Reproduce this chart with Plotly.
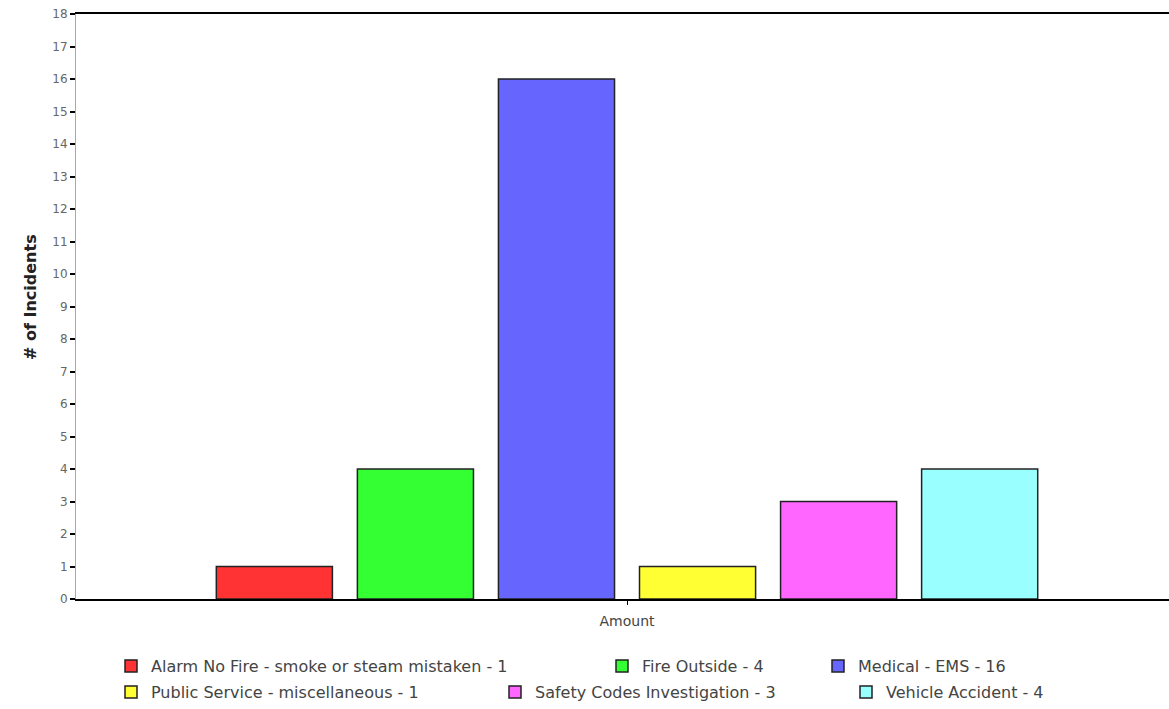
import plotly.graph_objects as go

categories = ["Alarm No Fire - smoke or steam mistaken", "Fire Outside", "Medical - EMS",
              "Public Service - miscellaneous", "Safety Codes Investigation", "Vehicle Accident"]
values = [1, 4, 16, 1, 3, 4]
colors = ["#FF3333", "#33FF33", "#6666FF", "#FFFF33", "#FF66FF", "#99FFFF"]
x_label = "Amount"
y_title = "# of Incidents"

# legend layout: (left pixel of legend box, centre-row pixel)
legend_pos = [(111, 666), (602, 666), (818, 666), (111, 692), (495, 692), (846, 692)]

W, H = 1169, 709
ml, mt, mb = 76, 14, 110
pw = W - ml
ph = H - mt - mb
def px(p):
    return (p - ml) / pw
def py(p):
    return (H - mb - p) / ph

FONT = "DejaVu Sans, Liberation Sans, Arial, sans-serif"

fig = go.Figure()
legend_layout = {}
for i, (name, v, c) in enumerate(zip(categories, values, colors)):
    lg = "legend" if i == 0 else f"legend{i + 1}"
    fig.add_trace(go.Bar(
        x=[x_label], y=[v], name=f"{name} - {v}",
        marker=dict(color=c, line=dict(color="#222222", width=1.5)),
        legend=lg, showlegend=True,
    ))
    lx, ly = legend_pos[i]
    legend_layout[lg] = dict(
        orientation="h", xanchor="left", yanchor="middle",
        x=px(lx), y=py(ly),
        font=dict(family=FONT, size=16, color="#444444"),
        bgcolor="rgba(0,0,0,0)", itemclick=False, visible=True,
    )

fig.update_layout(
    width=W, height=H,
    showlegend=True,
    margin=dict(l=ml, r=0, t=mt, b=mb),
    paper_bgcolor="white", plot_bgcolor="white",
    barmode="group", bargap=0.232, bargroupgap=0.177,
    font=dict(family=FONT, color="#555555"),
    **legend_layout,
    xaxis=dict(range=[-0.5, 0.4918], showline=True, linecolor="black", linewidth=1.5,
               mirror=True, ticks="outside", ticklen=4, tickcolor="black",
               ticklabelstandoff=4,
               tickfont=dict(family=FONT, size=14, color="#444444"), showgrid=False, zeroline=False),
    yaxis=dict(range=[0, 18], dtick=1, showline=True, linecolor="#aaaaaa", linewidth=1,
               ticks="outside", ticklen=5, tickcolor="black", tickwidth=1.5,
               tickfont=dict(family=FONT, size=12, color="#666666"), showgrid=False, zeroline=False),
    annotations=[dict(
        text=y_title, textangle=-90, showarrow=False,
        xref="paper", yref="paper", x=px(31), y=py(297), xanchor="center", yanchor="middle",
        font=dict(family=FONT, size=16, color="#222222", weight="bold"),
    )],
)

fig.write_html("out.html")
